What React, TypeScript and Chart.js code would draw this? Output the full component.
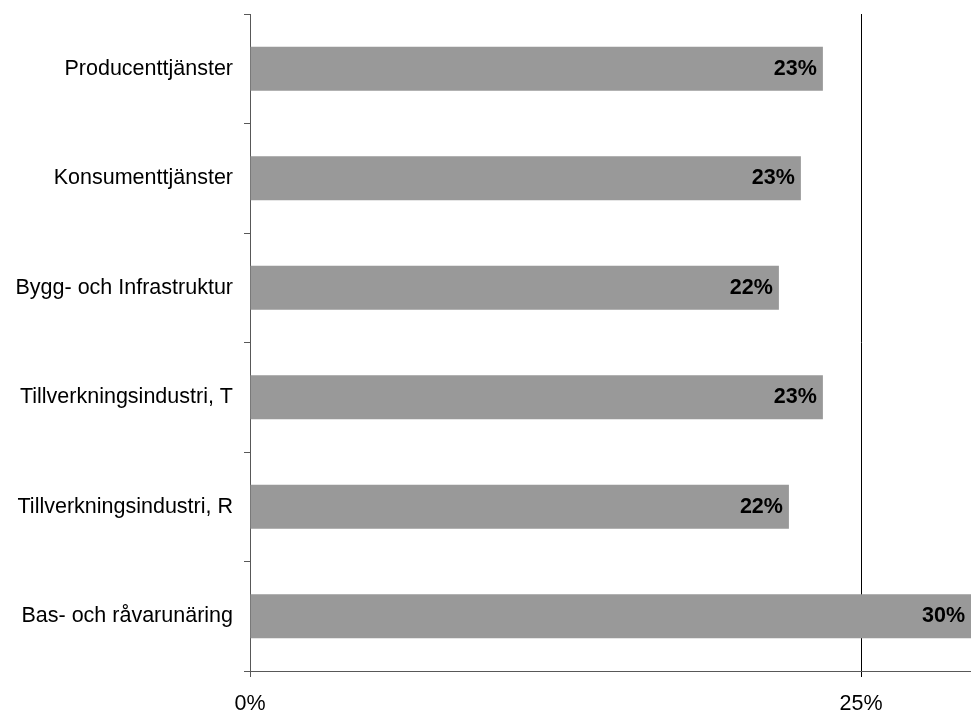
import React, { useEffect, useRef } from "react";
import { Chart, registerables } from "chart.js";

Chart.register(...registerables);

const categories = [
  "Producenttjänster",
  "Konsumenttjänster",
  "Bygg- och Infrastruktur",
  "Tillverkningsindustri, T",
  "Tillverkningsindustri, R",
  "Bas- och råvarunäring",
];
const shares = [23.44, 22.54, 21.64, 23.44, 22.05, 29.5];
const xTickValues = [0, 25];
const xMax = 29.5;

const FONT = "'Liberation Sans', Arial, sans-serif";
const AXIS_COLOR = "#585858";

const valueLabels = {
  id: "valueLabels",
  afterDatasetsDraw(chart: any) {
    const ctx = chart.ctx;
    const meta = chart.getDatasetMeta(0);
    ctx.save();
    ctx.font = `bold 21.5px ${FONT}`;
    ctx.fillStyle = "#000";
    ctx.textAlign = "right";
    ctx.textBaseline = "middle";
    meta.data.forEach((bar: any, i: number) => {
      const v = chart.data.datasets[0].data[i] as number;
      const x = Math.min(bar.x, chart.chartArea.right);
      ctx.fillText(`${Math.round(v)}%`, x - 6, bar.y);
    });
    ctx.restore();
  },
};

export default function App() {
  const ref = useRef<HTMLCanvasElement | null>(null);
  useEffect(() => {
    document.body.style.margin = "0";
    if (!ref.current) return;
    const chart = new Chart(ref.current, {
      type: "bar",
      data: {
        labels: categories,
        datasets: [
          {
            data: shares,
            backgroundColor: "#999999",
            borderWidth: 0,
            categoryPercentage: 1,
            barPercentage: 0.4,
          },
        ],
      },
      options: {
        indexAxis: "y",
        responsive: false,
        animation: false,
        devicePixelRatio: 1,
        layout: { padding: { top: 14, right: 0, left: 0, bottom: 0 } },
        plugins: {
          legend: { display: false },
          tooltip: { enabled: false },
        },
        scales: {
          x: {
            min: 0,
            max: xMax,
            afterBuildTicks: (scale: any) => {
              scale.ticks = xTickValues.map((v) => ({ value: v }));
            },
            afterFit: (scale: any) => {
              scale.height = 40;
              scale.paddingLeft = 0;
              scale.paddingRight = 0;
            },
            border: { display: true, color: AXIS_COLOR, width: 1 },
            grid: {
              color: (c: any) => (c.tick && c.tick.value === 25 ? "#000" : AXIS_COLOR),
              tickColor: (c: any) => (c.tick && c.tick.value === 25 ? "#000" : AXIS_COLOR),
              lineWidth: 1,
              tickLength: 6,
              drawTicks: true,
            },
            ticks: {
              color: "#000",
              font: { family: FONT, size: 21.5 },
              padding: 14,
              maxRotation: 0,
              callback: (v: any) => `${v}%`,
            },
          },
          y: {
            afterFit: (scale: any) => {
              scale.width = 250;
              scale.paddingTop = 0;
              scale.paddingBottom = 0;
            },
            border: { display: true, color: AXIS_COLOR, width: 1 },
            grid: {
              offset: true,
              drawOnChartArea: false,
              drawTicks: true,
              tickLength: 6,
              color: AXIS_COLOR,
            },
            ticks: {
              color: "#000",
              font: { family: FONT, size: 21.5 },
              padding: 11,
            },
          },
        },
      },
      plugins: [valueLabels],
    });
    return () => chart.destroy();
  }, []);
  return (
    <div style={{ width: 971, height: 711, overflow: "hidden" }}>
      <canvas ref={ref} width={971} height={711} style={{ display: "block" }} />
    </div>
  );
}
